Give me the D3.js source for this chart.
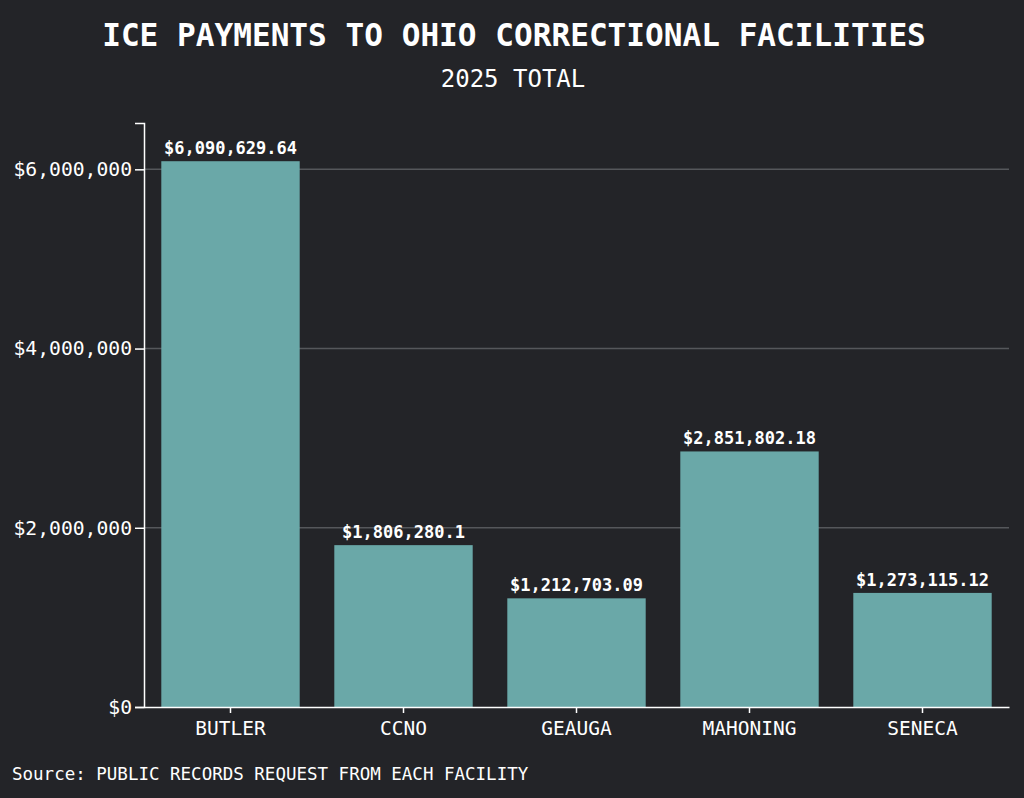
<!DOCTYPE html>
<html>
<head>
<meta charset="utf-8">
<script src="https://cdn.jsdelivr.net/npm/d3@7"></script>
<style>
  html, body { margin: 0; padding: 0; background: #232428; }
  svg { display: block; }
  text { font-family: "DejaVu Sans Mono", "Liberation Mono", monospace; fill: #ffffff; }
</style>
</head>
<body>
<div id="chart"></div>
<script>
// chart data
var facilities = ["BUTLER", "CCNO", "GEAUGA", "MAHONING", "SENECA"];
var payments = [6090629.64, 1806280.1, 1212703.09, 2851802.18, 1273115.12];
var paymentLabels = ["$6,090,629.64", "$1,806,280.1", "$1,212,703.09", "$2,851,802.18", "$1,273,115.12"];
var yTicks = [0, 2000000, 4000000, 6000000];

var width = 1024, height = 798;
var margin = {top: 123, right: 15, bottom: 91, left: 144};

var svg = d3.select('#chart').append('svg')
    .attr('width', width)
    .attr('height', height);

svg.append('rect')
    .attr('width', width)
    .attr('height', height)
    .attr('fill', '#232428');

var x = d3.scaleBand()
    .domain(facilities)
    .range([margin.left, width - margin.right])
    .paddingInner(0.2)
    .paddingOuter(0.1);

var y = d3.scaleLinear()
    .domain([0, d3.max(payments) * 1.07])
    .range([height - margin.bottom, margin.top]);

// gridlines
svg.append('g')
    .selectAll('line.grid')
    .data(yTicks.filter(function(d) { return d > 0; }))
    .enter()
    .append('line')
    .classed('grid', true)
    .attr('x1', margin.left)
    .attr('x2', width - margin.right)
    .attr('y1', function(d) { return y(d); })
    .attr('y2', function(d) { return y(d); })
    .attr('stroke', '#55575b')
    .attr('stroke-width', 1.5);

var rows = facilities.map(function(f, i) {
    return {name: f, value: payments[i], label: paymentLabels[i]};
});

svg.append('g')
    .selectAll('rect.bar')
    .data(rows)
    .enter()
    .append('rect')
    .classed('bar', true)
    .attr('x', function(d) { return x(d.name); })
    .attr('width', x.bandwidth())
    .attr('y', function(d) { return y(d.value); })
    .attr('height', function(d) { return y(0) - y(d.value); })
    .attr('fill', '#6aa8a8');

svg.append('g')
    .selectAll('text.value')
    .data(rows)
    .enter()
    .append('text')
    .classed('value', true)
    .attr('x', function(d) { return x(d.name) + x.bandwidth() / 2; })
    .attr('y', function(d) { return y(d.value) - 7; })
    .attr('text-anchor', 'middle')
    .attr('font-size', 17)
    .attr('font-weight', 'bold')
    .text(function(d) { return d.label; });

// axes
var yAxis = d3.axisLeft(y)
    .tickValues(yTicks)
    .tickSize(9)
    .tickPadding(3)
    .tickFormat(function(d) { return '$' + d3.format(',')(d); });

var gy = svg.append('g')
    .attr('transform', 'translate(' + margin.left + ',0)')
    .call(yAxis);
gy.selectAll('path, line').attr('stroke', '#ffffff').attr('stroke-width', 1.5);
gy.selectAll('text').attr('font-size', 19.7).attr('fill', '#ffffff')
    .attr('font-family', '"DejaVu Sans Mono", monospace');

var xAxis = d3.axisBottom(x).tickSize(6).tickSizeOuter(0);
var gx = svg.append('g')
    .attr('transform', 'translate(0,' + (height - margin.bottom) + ')')
    .call(xAxis);
gx.selectAll('path, line').attr('stroke', '#ffffff').attr('stroke-width', 1.5);
gx.selectAll('text').attr('font-size', 19.5).attr('fill', '#ffffff').attr('dy', '0.95em')
    .attr('font-family', '"DejaVu Sans Mono", monospace');

// titles
svg.append('text')
    .attr('x', width / 2 + 2)
    .attr('y', 46)
    .attr('text-anchor', 'middle')
    .attr('font-size', 31.1)
    .attr('font-weight', 'bold')
    .text('ICE PAYMENTS TO OHIO CORRECTIONAL FACILITIES');

svg.append('text')
    .attr('x', width / 2 + 1)
    .attr('y', 87)
    .attr('text-anchor', 'middle')
    .attr('font-size', 24)
    .text('2025 TOTAL');

svg.append('text')
    .attr('x', 12)
    .attr('y', 780)
    .attr('font-size', 17.5)
    .text('Source: PUBLIC RECORDS REQUEST FROM EACH FACILITY');
</script>
</body>
</html>
